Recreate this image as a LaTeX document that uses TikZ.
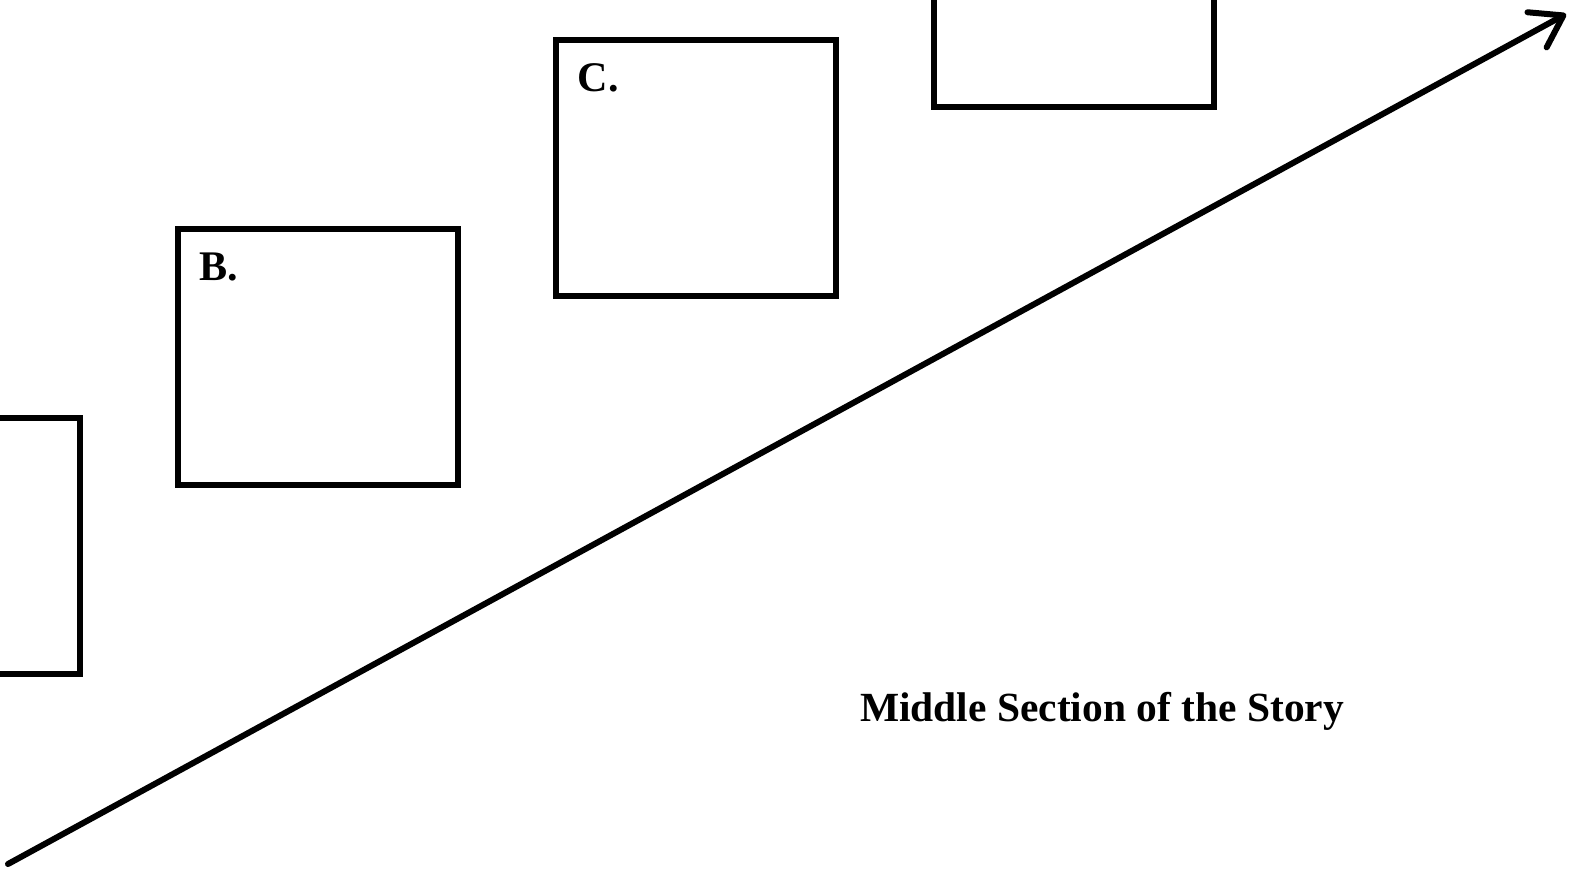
\documentclass[tikz,border=0pt]{standalone}
\usepackage{fontspec}
\setmainfont{Liberation Serif}
\usetikzlibrary{arrows.meta}

\begin{document}
\begin{tikzpicture}[
        scenebox/.style={draw, line width=0.06cm, minimum width=2.80cm, minimum height=2.56cm, inner sep=0pt},
        boxlabel/.style={anchor=base west, inner sep=0pt, font=\fontsize{12}{14}\selectfont\bfseries},
        plotline/.style={line width=0.06cm, line cap=round, -{Straight Barb[length=0.30cm, width=0.40cm, round]}}
    ]
    \useasboundingbox (0,0) rectangle (15.89,8.79);
    % boxes climbing along the arrow
    \node[scenebox] (boxA) at (-0.60,3.33) {};
    \node[scenebox] (boxB) at (3.18,5.22) {};
    \node[scenebox] (boxC) at (6.96,7.11) {};
    \node[scenebox] (boxD) at (10.74,9.00) {};
    \node[boxlabel] (labB) at ([shift={(0.24,-0.54)}]boxB.north west) {B.};
    \node[boxlabel] (labC) at ([shift={(0.24,-0.54)}]boxC.north west) {C.};
    % rising action
    \coordinate (start) at (0.08,0.15);
    \coordinate (peak) at (15.66,8.65);
    \draw[plotline] (start) -- (peak);
    \node[font=\fontsize{11.8}{14}\selectfont\bfseries] (title) at (11.02,1.68) {Middle Section of the Story};
\end{tikzpicture}
\end{document}
